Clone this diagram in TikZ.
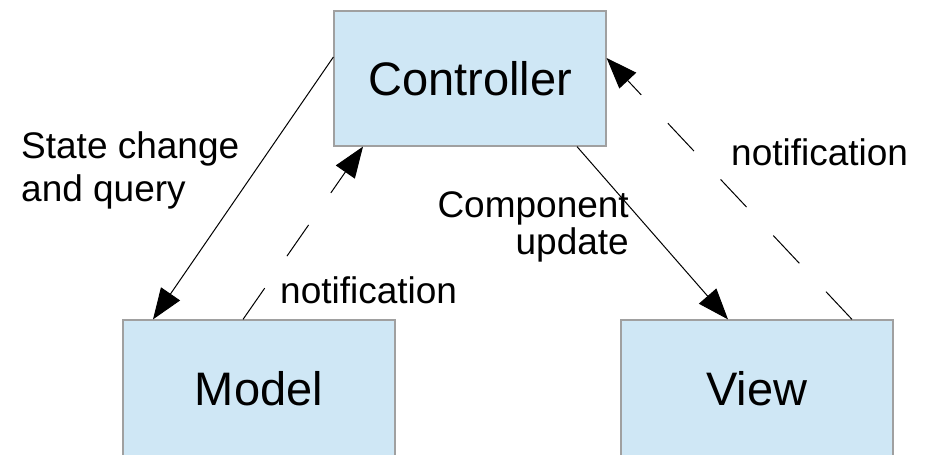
\documentclass[tikz,border=0pt]{standalone}
\usepackage{fontspec}
\setmainfont{Liberation Sans}
\usetikzlibrary{arrows.meta}
\definecolor{boxblue}{HTML}{CFE7F5}
\definecolor{boxgray}{HTML}{A0A0A0}
\tikzset{
  block/.style={draw=boxgray, fill=boxblue, line width=1.2pt, inner sep=0pt,
    minimum width=272pt, font=\fontsize{47}{56}\selectfont},
  flow/.style={line width=1pt, -{Triangle[length=31pt,width=23pt]}},
  notify/.style={flow, dash pattern=on 38pt off 39pt},
  lbl/.style={inner sep=0pt, font=\fontsize{37}{43}\selectfont}
}
\begin{document}
\begin{tikzpicture}[x=1pt, y=-1pt]
  \useasboundingbox (0,0) rectangle (930,455);

  % the three components
  \node[block, minimum height=135pt] (ctrl)  at (470,78.5) {Controller};
  \node[block, minimum height=138pt] (model) at (259,389)  {Model};
  \node[block, minimum height=138pt] (view)  at (757,389)  {View};

  % controller <-> model
  \draw[flow]   ([yshift=21.5pt]ctrl.west) -- ([xshift=-106pt]model.north);
  \draw[notify] ([xshift=-16pt]model.north) -- ([xshift=-107pt]ctrl.south);

  % controller <-> view
  \draw[flow]   ([xshift=107pt]ctrl.south) -- ([xshift=-29pt]view.north);
  \draw[notify] ([xshift=95pt]view.north) -- ([yshift=20.5pt]ctrl.east);

  % connector labels (base anchor sits on the last line)
  \node[lbl, align=left, anchor=base west] (lstate) at (21,201) {State change\\and query};
  \node[lbl, anchor=base west] (lnotm) at (280,303) {notification};
  \node[lbl, align=right, anchor=base east,
        font=\fontsize{37}{37}\selectfont] (lupd) at (629,254) {Component\\update};
  \node[lbl, anchor=base west] (lnotv) at (731,165) {notification};
\end{tikzpicture}
\end{document}
